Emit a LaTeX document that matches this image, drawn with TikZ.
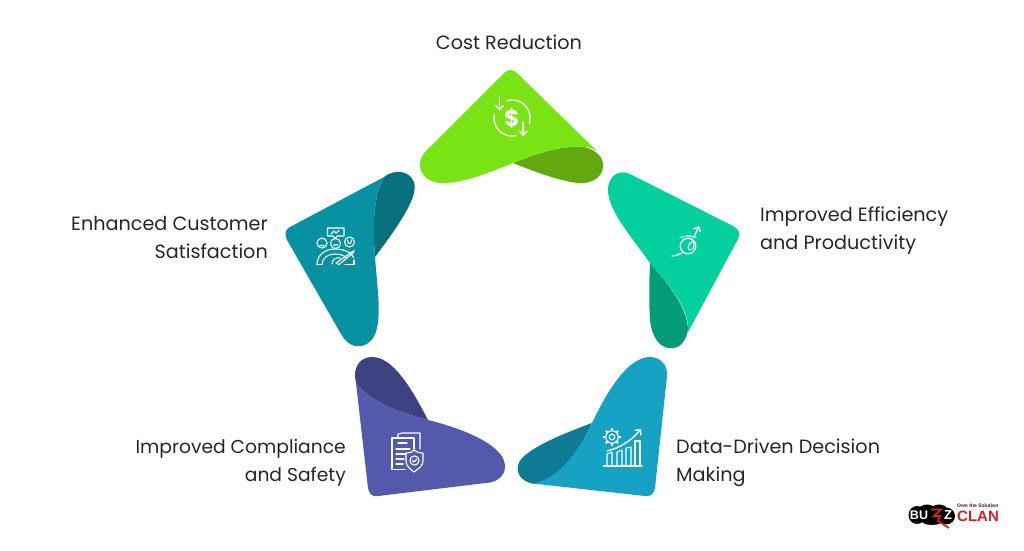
\documentclass[tikz,border=0pt]{standalone}
\usepackage{fontspec}
\setmainfont{Poppins}
\newfontfamily\logofont{Liberation Sans}
\usetikzlibrary{arrows.meta,calc}
\definecolor{ink}{HTML}{262626}
\definecolor{cGreen}{HTML}{7AE314}\definecolor{dGreen}{HTML}{62A80F}
\definecolor{cMint}{HTML}{03CF9F}\definecolor{dMint}{HTML}{029C77}
\definecolor{cBlue}{HTML}{16A2C4}\definecolor{dBlue}{HTML}{0E7A95}
\definecolor{cPurple}{HTML}{5359AB}\definecolor{dPurple}{HTML}{3D4382}
\definecolor{cTeal}{HTML}{0791A3}\definecolor{dTeal}{HTML}{07707C}
\definecolor{logoRed}{HTML}{D8202A}
\tikzset{
  label text/.style={text=ink,inner sep=0pt,font=\fontsize{19.2}{28}\selectfont},
  icon/.style={draw=white,line width=1.4pt,line cap=round,line join=round},
  thin icon/.style={draw=white,line width=1.1pt,line cap=round,line join=round},
  tip/.style={-{Straight Barb[length=4pt,width=8pt]}}
}
\begin{document}
\begin{tikzpicture}[x=1pt,y=-1pt]
\useasboundingbox (0,0) rectangle (1024,550);
% --- green
\fill[dGreen] (513,163) .. controls (540,152) and (565,145) .. (584,147) .. controls (597,150) and (604,158) .. (603,167) .. controls (602,178) and (591,184) .. (578,183) .. controls (560,181) and (535,172) .. (513,163) -- cycle;
\fill[cGreen] (504,73) .. controls (508,69) and (513,69) .. (517,73) -- (597,151) .. controls (590,147) and (587,147) .. (584,147) .. controls (565,145) and (540,152) .. (513,163) .. controls (490,172) and (465,183) .. (442,183) .. controls (428,183) and (419,174) .. (420,163) .. controls (421,155) and (425,152) .. (432,145) -- cycle;
% --- mint
\fill[dMint] (650,263) .. controls (649,285) and (649,305) .. (650,320) .. controls (652,338) and (660,349) .. (672,348) .. controls (681,348) and (686,340) .. (688,330) .. controls (688,310) and (670,285) .. (650,263) -- cycle;
\fill[cMint] (630,174) -- (733,226) .. controls (739,229) and (741,234) .. (738,239) -- (688,332) .. controls (690,310) and (670,285) .. (650,263) .. controls (630,235) and (608,210) .. (608,190) .. controls (608,175) and (620,169) .. (630,174) -- cycle;
% --- blue
\fill[dBlue] (592,423) .. controls (565,433) and (535,445) .. (522,458) .. controls (513,468) and (518,482) .. (535,484) .. controls (560,478) and (580,450) .. (592,423) -- cycle;
\fill[cBlue] (592,423) .. controls (610,385) and (630,357) .. (650,357) .. controls (661,357) and (668,366) .. (667,376) -- (655,488) .. controls (654,494) and (650,497) .. (645,496) -- (533,483.5) .. controls (560,478) and (580,450) .. (592,423) -- cycle;
% --- purple
\fill[dPurple] (428,420) .. controls (410,385) and (392,357) .. (372,357) .. controls (361,357) and (354,366) .. (355,377) -- (356,383) .. controls (370,402) and (400,413) .. (428,420) -- cycle;
\fill[cPurple] (356,383) .. controls (370,402) and (400,413) .. (428,420) .. controls (460,428) and (490,440) .. (501,455) .. controls (510,468) and (503,480) .. (490,482.5) -- (378,496) .. controls (372,497) and (369,494) .. (368,488) -- cycle;
% --- teal
\fill[dTeal] (384,177) .. controls (394,169) and (409,170) .. (414,182) .. controls (418,195) and (405,217) .. (375,257) .. controls (373,230) and (372,200) .. (384,177) -- cycle;
\fill[cTeal] (290,227) -- (384,177) .. controls (372,200) and (373,230) .. (375,257) .. controls (377,285) and (381,310) .. (377,328) .. controls (373,348) and (352,354) .. (341,334) -- (287,240) .. controls (284,234) and (285,230) .. (290,227) -- cycle;

% === icon: dollar
\draw[icon] (506.5,100.8) arc[start angle=-108,end angle=18,radius=18];
\draw[icon] (516,135.6) arc[start angle=77,end angle=192,radius=18];
\draw[icon,tip] (499.5,97) -- (499.5,110.5);
\draw[icon,tip] (523,122) -- (523,136);
\node[inner sep=0pt,text=white,font=\fontsize{23}{23}\bfseries\selectfont] (dollar) at (512,118) {\$};
% === icon: stopwatch
\draw[icon] (688,246) circle[radius=7.8];
\draw[thin icon] (680,237.5) -- (684,236.5) (696,237.5) -- (692,236.5) (686,236) -- (691,236);
\draw[icon,tip] (694,237) -- (699,226);
\draw[icon] (672,256) .. controls (675,256) and (678,255) .. (682,253);
\draw[thin icon] (689,250) .. controls (694,250) and (695,246) .. (693,241) .. controls (689,243) and (687,247) .. (689,250);
% === icon: chart with gear
\draw[thin icon] (612,437) circle[radius=2.8];
\foreach \a in {0,45,...,315}{\draw[icon,line width=2pt,line cap=butt] ($(612,437)+(\a:6)$) -- ($(612,437)+(\a:8.8)$);}
\draw[thin icon] (612,437) circle[radius=6.3];
\draw[icon] (603.5,466) -- (642,466);
\draw[thin icon] (607,466) -- (607,454) -- (612,452) -- (612,466);
\draw[thin icon] (617,466) -- (617,452) -- (622,450) -- (622,466);
\draw[thin icon] (626,466) -- (626,448) -- (631,447) -- (631,466);
\draw[thin icon] (635,466) -- (635,441) -- (640,441) -- (640,466);
\draw[icon,tip] (607,451) .. controls (620,448) and (632,440) .. (641,429);
% === icon: documents with shield
\draw[thin icon] (398,438) -- (392,438) -- (392,469.5) -- (405,469.5);
\draw[thin icon] (398,438) -- (398,434) -- (402,433) -- (420,433) -- (420,449);
\draw[thin icon] (392,438) -- (414,438) -- (414,449);
\draw[thin icon] (398,443) -- (407,443) (396,449) -- (410,449) (396,454) -- (406,454) (396,459) -- (404,459) (396,464) -- (403,464);
\draw[thin icon] (414,450) .. controls (418,453) and (421,453) .. (423,453) -- (423,461) .. controls (423,466) and (418,469) .. (414,472) .. controls (410,469) and (406,466) .. (406,461) -- (406,453) .. controls (408,453) and (411,453) .. (414,450) -- cycle;
\draw[thin icon] (414.5,460.5) circle[radius=4.6];
\draw[thin icon] (412.5,460.5) -- (414,462) -- (417,459);
% === icon: satisfaction gauge
\draw[thin icon] (327.5,228) -- (344,228) -- (344,236) -- (337,236) -- (335,238.5) -- (333,236) -- (327.5,236) -- cycle;
\draw[thin icon] (331,234) -- (334,231) -- (336,233) -- (339,230.5);
\draw[thin icon] (322,243) circle[radius=5] (335.5,243.5) circle[radius=5] (349.5,242) circle[radius=5];
\draw[thin icon] (320,245.5) -- (324,245.5) (333.5,245) -- (337.5,245) (347.5,240) .. controls (347.5,245) and (351.5,245) .. (351.5,240);
\draw[thin icon] (317,264.5) .. controls (317,255) and (325,249) .. (335,249) .. controls (345,249) and (352,253) .. (354,258);
\draw[thin icon] (322,264.5) .. controls (322,258) and (328,254) .. (335,254) .. controls (339,254) and (344,255) .. (347,258);
\draw[thin icon] (317,264.5) -- (322,264.5) (345,264.5) -- (354,264.5) -- (354,260);
\draw[thin icon] (332,264) .. controls (332,259) and (337,257) .. (340,258);
\draw[thin icon] (336,263) -- (354,250.5) -- (353,253) -- (339,264.5) -- cycle;

% === labels
\node[label text,align=center] (cost) at (509,42) {Cost Reduction};
\node[label text,align=left,anchor=west] (eff) at (760,231) {Improved Efficiency\\and Productivity};
\node[label text,align=left,anchor=west] (data) at (676,463) {Data-Driven Decision\\Making};
\node[label text,align=right,anchor=east,font=\fontsize{18.7}{28}\selectfont] (comp) at (346,463) {Improved Compliance\\and Safety};
\node[label text,align=right,anchor=east] (cust) at (268,237) {Enhanced Customer\\Satisfaction};

% === logo
\fill[black] (917,515) ellipse[x radius=8.5,y radius=9] (927,511) ellipse[x radius=9,y radius=6.5] (939,511) ellipse[x radius=9,y radius=6.5] (946,516) ellipse[x radius=9,y radius=8.5] (932,519) ellipse[x radius=12,y radius=6];
\node[inner sep=0pt,text=white,font=\logofont\fontsize{12.5}{13}\bfseries\selectfont] (buz) at (919,515) {BU};
\draw[logoRed,line width=1.7pt,line join=miter] (931,509.5) -- (941,509.5) -- (934,516) -- (940,516) -- (938,521) -- (949,528);
\node[inner sep=0pt,text=white,font=\logofont\fontsize{13}{13}\bfseries\selectfont] (z) at (948,515) {Z};
\node[inner sep=0pt,text=logoRed,font=\logofont\fontsize{15}{15}\bfseries\selectfont,anchor=west] (clan) at (957,516) {CLAN};
\node[inner sep=0pt,text=ink,font=\logofont\fontsize{5}{5}\bfseries\selectfont,anchor=west] (own) at (957,505.5) {Own the Solution};
\end{tikzpicture}
\end{document}
